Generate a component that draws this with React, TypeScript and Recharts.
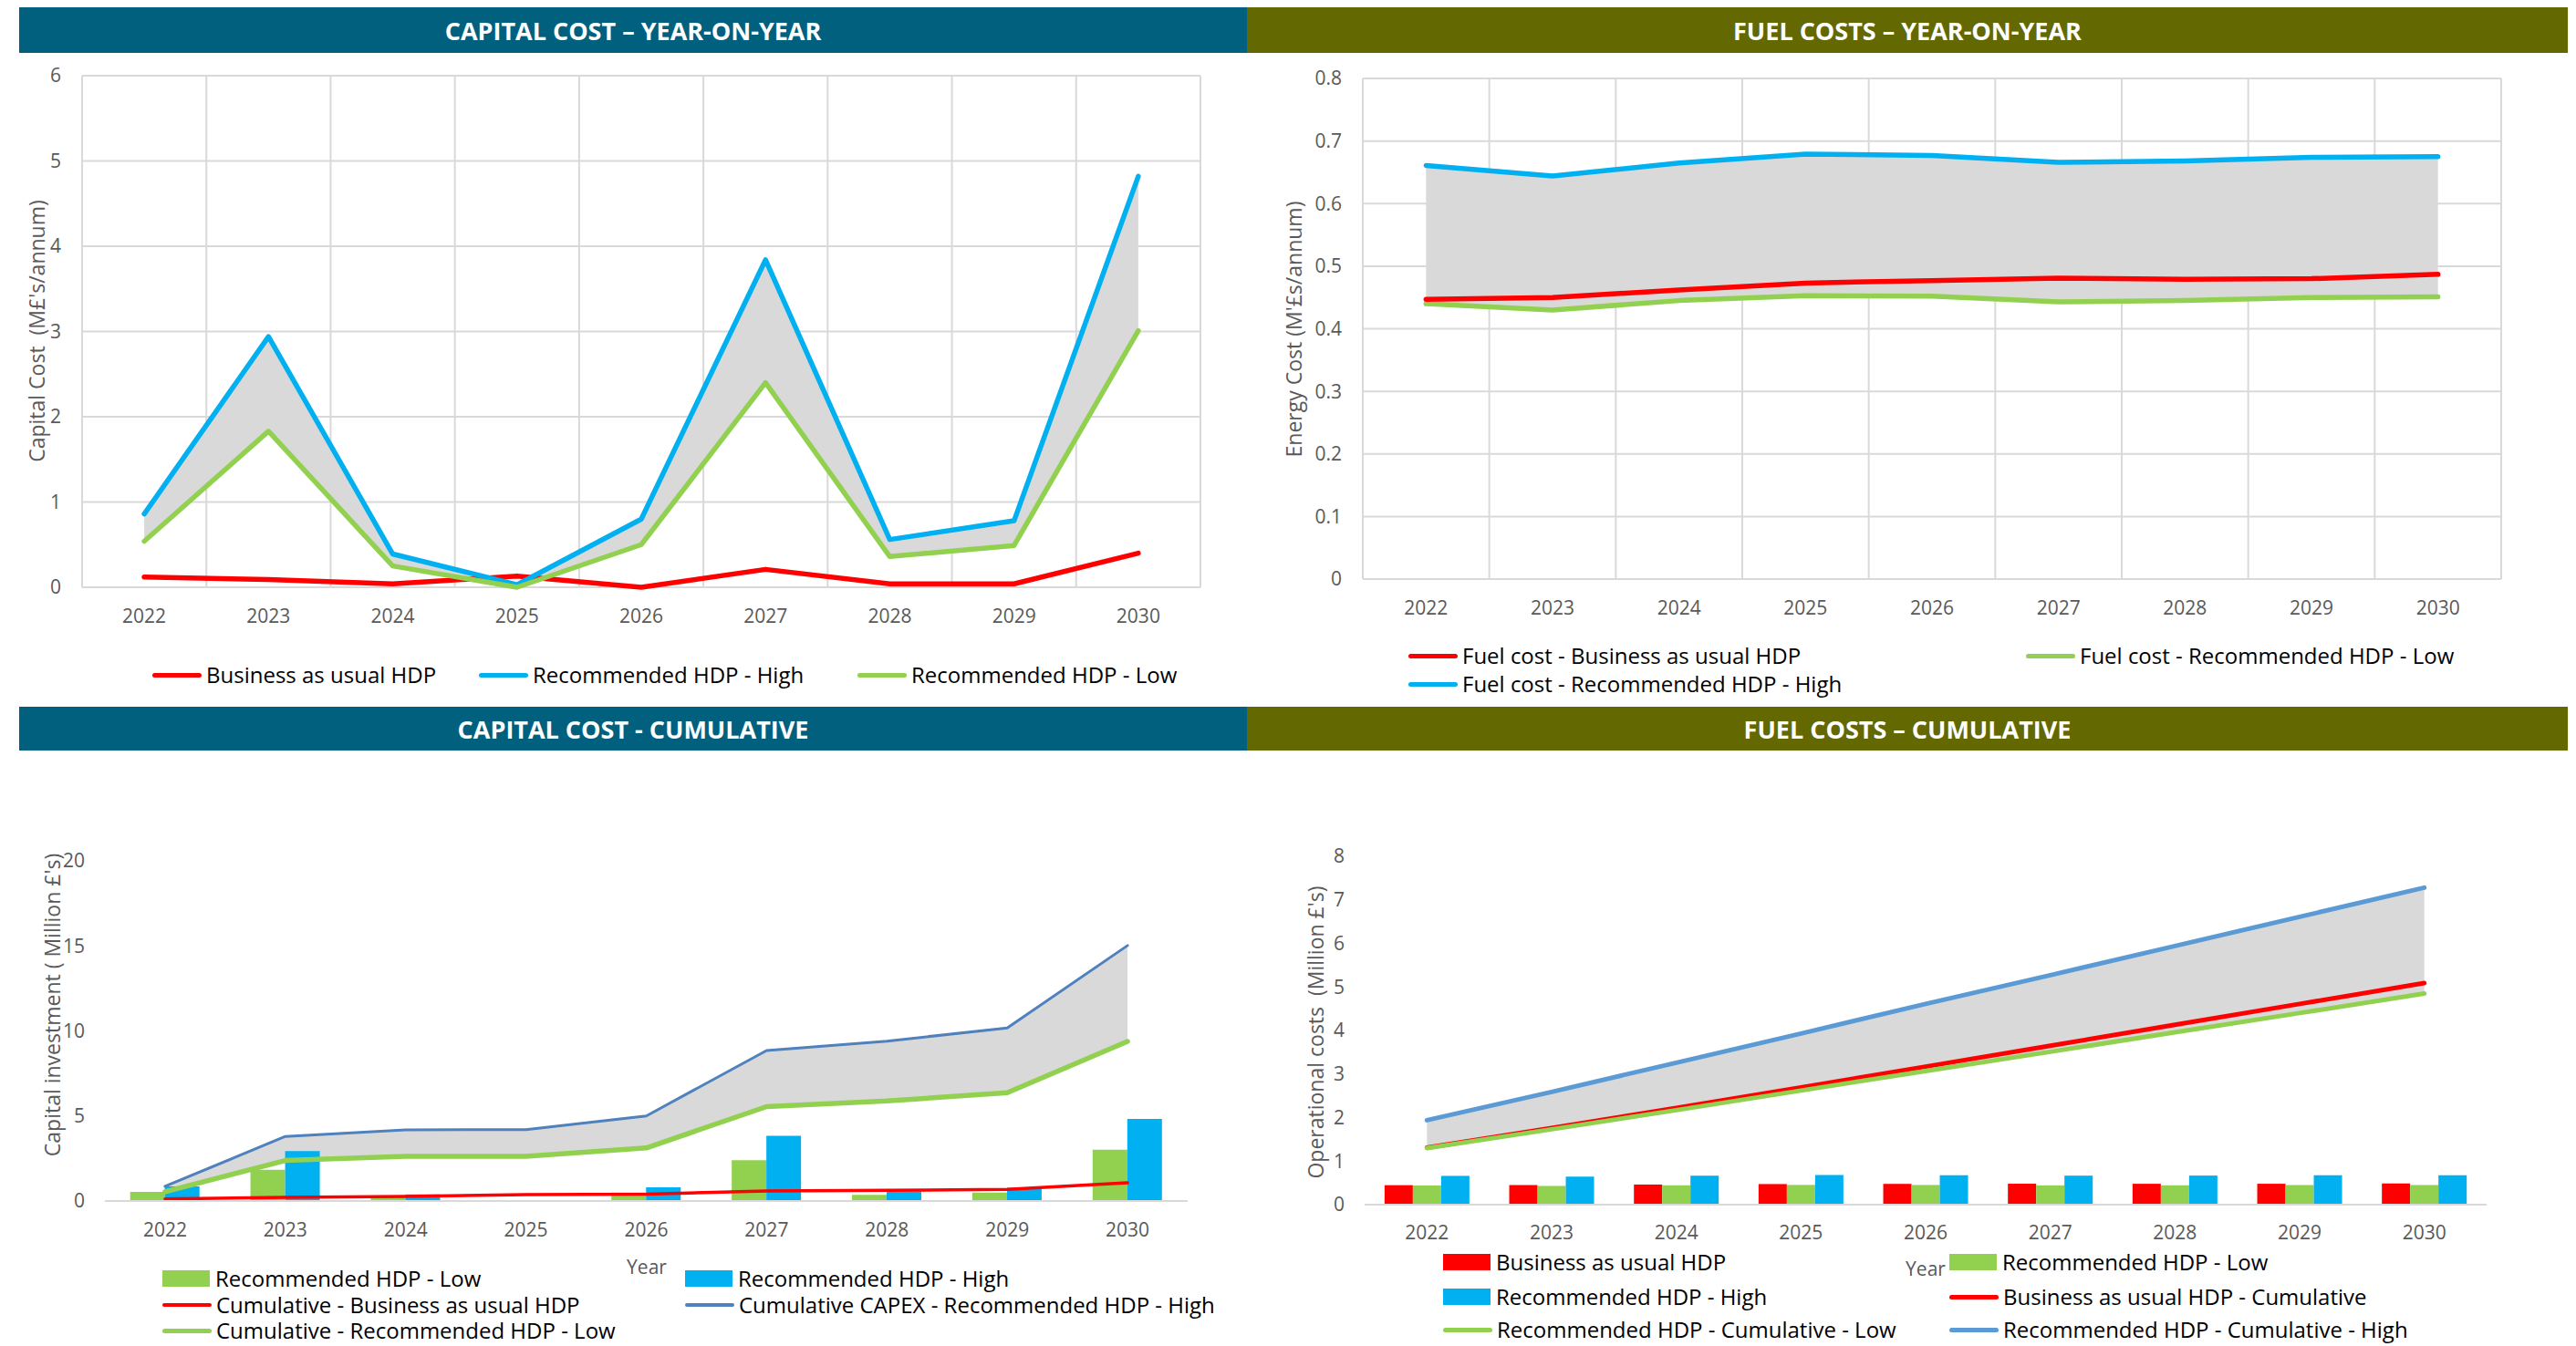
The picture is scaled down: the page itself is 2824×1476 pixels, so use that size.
import React from 'react';
import { ComposedChart, Line, Area, Bar, XAxis, YAxis, CartesianGrid } from 'recharts';

// Years shown on every panel
const YEARS = ['2022', '2023', '2024', '2025', '2026', '2027', '2028', '2029', '2030'];

// Capital cost per year (M£)
const capexBau = [0.12, 0.09, 0.04, 0.13, 0.0, 0.21, 0.04, 0.04, 0.4];
const capexHigh = [0.86, 2.94, 0.39, 0.03, 0.8, 3.84, 0.56, 0.78, 4.82];
const capexLow = [0.54, 1.83, 0.25, 0.0, 0.5, 2.4, 0.36, 0.49, 3.01];

// Capital cost, running totals (M£)
const capexCumBau = [0.12, 0.21, 0.27, 0.38, 0.4, 0.59, 0.63, 0.68, 1.07];
const capexCumHigh = [0.86, 3.8, 4.18, 4.2, 5.0, 8.85, 9.4, 10.18, 15.02];
const capexCumLow = [0.54, 2.38, 2.63, 2.63, 3.12, 5.55, 5.88, 6.37, 9.38];

// Fuel cost per year (M£)
const fuelBau = [0.447, 0.45, 0.462, 0.473, 0.477, 0.481, 0.479, 0.48, 0.487];
const fuelHigh = [0.661, 0.644, 0.665, 0.679, 0.677, 0.666, 0.668, 0.674, 0.675];
const fuelLow = [0.44, 0.43, 0.445, 0.453, 0.452, 0.443, 0.445, 0.45, 0.451];

// Fuel cost, running totals (M£)
const fuelCumBau = [1.31, 1.76, 2.22, 2.69, 3.17, 3.65, 4.13, 4.61, 5.09];
const fuelCumHigh = [1.94, 2.59, 3.26, 3.93, 4.61, 5.27, 5.94, 6.61, 7.28];
const fuelCumLow = [1.3, 1.73, 2.17, 2.62, 3.07, 3.51, 3.96, 4.4, 4.85];

// Y-axis ticks
const capexYoYTicks = [0, 1, 2, 3, 4, 5, 6];
const fuelYoYTicks = [0, 0.1, 0.2, 0.3, 0.4, 0.5, 0.6, 0.7, 0.8];
const capexCumTicks = [0, 5, 10, 15, 20];
const fuelCumTicks = [0, 1, 2, 3, 4, 5, 6, 7, 8];

const RED = '#FF0000';
const BLUE = '#00B0F0';
const GREEN = '#92D050';
const STEEL = '#4F81BD';
const SKY = '#5B9BD5';
const SHADE = '#D9D9D9';
const GRID = '#D9D9D9';
const TEAL = '#00607E';
const OLIVE = '#636800';
const FONT = '"Open Sans", "DejaVu Sans", sans-serif';

const tickStyle = { fill: '#595959', fontSize: 21, fontFamily: FONT };

const capexRows = YEARS.map((year, i) => ({
  year,
  bau: capexBau[i],
  high: capexHigh[i],
  low: capexLow[i],
  band: [capexLow[i], capexHigh[i]],
  cumBau: capexCumBau[i],
  cumHigh: capexCumHigh[i],
  cumLow: capexCumLow[i],
  cumBand: [capexCumLow[i], capexCumHigh[i]],
}));

const fuelRows = YEARS.map((year, i) => ({
  year,
  bau: fuelBau[i],
  high: fuelHigh[i],
  low: fuelLow[i],
  band: [fuelLow[i], fuelHigh[i]],
  cumBau: fuelCumBau[i],
  cumHigh: fuelCumHigh[i],
  cumLow: fuelCumLow[i],
  cumBand: [fuelCumLow[i], fuelCumHigh[i]],
}));

// vertical grid lines sit on the category boundaries, not the centres
const bandEdges = ({ offset }: any) => {
  const n = YEARS.length;
  return Array.from({ length: n + 1 }, (_, i) => offset.left + (i * offset.width) / n);
};

const Header = ({ x, y, w, h, color, text }: any) => (
  <div
    style={{
      position: 'absolute', left: x, top: y, width: w, height: h, background: color,
      color: '#fff', fontFamily: FONT, fontWeight: 700, fontSize: 27,
      display: 'flex', alignItems: 'center', justifyContent: 'center',
    }}
  >
    {text}
  </div>
);

const AxisTitle = ({ cx, cy, text }: any) => (
  <div
    style={{
      position: 'absolute', left: cx, top: cy, transform: 'translate(-50%, -50%) rotate(-90deg)',
      whiteSpace: 'pre', fontFamily: FONT, fontSize: 23, color: '#595959',
    }}
  >
    {text}
  </div>
);

const PlainLabel = ({ cx, cy, text }: any) => (
  <div
    style={{
      position: 'absolute', left: cx, top: cy, transform: 'translate(-50%, -50%)',
      fontFamily: FONT, fontSize: 21, color: '#595959',
    }}
  >
    {text}
  </div>
);

const LegendItem = ({ x, y, kind, color, text, weight = 5 }: any) => (
  <div
    style={{
      position: 'absolute', left: x, top: y, transform: 'translateY(-50%)',
      display: 'flex', alignItems: 'center', whiteSpace: 'nowrap', lineHeight: '28px',
      fontFamily: FONT, fontSize: 24, color: '#000',
    }}
  >
    {kind === 'bar' ? (
      <span style={{ display: 'inline-block', width: 52, height: 18, background: color, marginRight: 6 }} />
    ) : (
      <span
        style={{
          display: 'inline-block', width: 54, height: weight, background: color,
          borderRadius: weight, marginRight: 5,
        }}
      />
    )}
    {text}
  </div>
);

const CapexYoY = () => (
  <div style={{ position: 'absolute', left: 0, top: 60 }}>
    <ComposedChart width={1340} height={660} data={capexRows} margin={{ top: 23, right: 24, bottom: 36, left: 30 }}>
      <CartesianGrid stroke={GRID} strokeWidth={2} verticalCoordinatesGenerator={bandEdges} />
      <XAxis dataKey="year" scale="band" axisLine={false} tickLine={false} tickSize={0} tickMargin={24} height={40} tick={tickStyle} interval={0} />
      <YAxis domain={[0, 6]} ticks={capexYoYTicks} axisLine={false} tickLine={false} tickSize={0} tickMargin={23} width={60} tick={tickStyle} />
      <Area dataKey="band" type="linear" fill={SHADE} fillOpacity={1} stroke="none" isAnimationActive={false} activeDot={false} />
      <Line dataKey="bau" type="linear" stroke={RED} strokeWidth={5.5} dot={false} activeDot={false} strokeLinecap="round" strokeLinejoin="round" isAnimationActive={false} />
      <Line dataKey="high" type="linear" stroke={BLUE} strokeWidth={5.5} dot={false} activeDot={false} strokeLinecap="round" strokeLinejoin="round" isAnimationActive={false} />
      <Line dataKey="low" type="linear" stroke={GREEN} strokeWidth={5.5} dot={false} activeDot={false} strokeLinecap="round" strokeLinejoin="round" isAnimationActive={false} />
    </ComposedChart>
  </div>
);

const FuelYoY = () => (
  <div style={{ position: 'absolute', left: 1367, top: 60 }}>
    <ComposedChart width={1400} height={660} data={fuelRows} margin={{ top: 26, right: 25, bottom: 45, left: 67 }}>
      <CartesianGrid stroke={GRID} strokeWidth={2} verticalCoordinatesGenerator={bandEdges} />
      <XAxis dataKey="year" scale="band" axisLine={false} tickLine={false} tickSize={0} tickMargin={24} height={40} tick={tickStyle} interval={0} />
      <YAxis domain={[0, 0.8]} ticks={fuelYoYTicks} axisLine={false} tickLine={false} tickSize={0} tickMargin={23} width={60} tick={tickStyle} />
      <Area dataKey="band" type="linear" fill={SHADE} fillOpacity={1} stroke="none" isAnimationActive={false} activeDot={false} />
      <Line dataKey="low" type="linear" stroke={GREEN} strokeWidth={5.5} dot={false} activeDot={false} strokeLinecap="round" strokeLinejoin="round" isAnimationActive={false} />
      <Line dataKey="bau" type="linear" stroke={RED} strokeWidth={5.5} dot={false} activeDot={false} strokeLinecap="round" strokeLinejoin="round" isAnimationActive={false} />
      <Line dataKey="high" type="linear" stroke={BLUE} strokeWidth={5.5} dot={false} activeDot={false} strokeLinecap="round" strokeLinejoin="round" isAnimationActive={false} />
    </ComposedChart>
  </div>
);

const CapexCumulative = () => (
  <div style={{ position: 'absolute', left: 0, top: 830 }}>
    <ComposedChart width={1330} height={540} data={capexRows} barCategoryGap="21%" barGap={0} margin={{ top: 114, right: 28, bottom: 13, left: 55 }}>
      <XAxis dataKey="year" scale="band" axisLine={{ stroke: GRID, strokeWidth: 2 }} tickLine={false} tickSize={0} tickMargin={24} height={40} tick={tickStyle} interval={0} />
      <YAxis domain={[0, 20]} ticks={capexCumTicks} axisLine={false} tickLine={false} tickSize={0} tickMargin={22} width={60} tick={tickStyle} />
      <Area dataKey="cumBand" type="linear" fill={SHADE} fillOpacity={1} stroke="none" isAnimationActive={false} activeDot={false} />
      <Bar dataKey="low" fill={GREEN} isAnimationActive={false} />
      <Bar dataKey="high" fill={BLUE} isAnimationActive={false} />
      <Line dataKey="cumBau" type="linear" stroke={RED} strokeWidth={3.5} dot={false} activeDot={false} strokeLinecap="round" strokeLinejoin="round" isAnimationActive={false} />
      <Line dataKey="cumHigh" type="linear" stroke={STEEL} strokeWidth={3} dot={false} activeDot={false} strokeLinecap="round" strokeLinejoin="round" isAnimationActive={false} />
      <Line dataKey="cumLow" type="linear" stroke={GREEN} strokeWidth={5.5} dot={false} activeDot={false} strokeLinecap="round" strokeLinejoin="round" isAnimationActive={false} />
    </ComposedChart>
  </div>
);

const FuelCumulative = () => (
  <div style={{ position: 'absolute', left: 1367, top: 830 }}>
    <ComposedChart width={1400} height={540} data={fuelRows} barCategoryGap="16%" barGap={0} margin={{ top: 109, right: 41, bottom: 9, left: 69 }}>
      <XAxis dataKey="year" scale="band" axisLine={{ stroke: GRID, strokeWidth: 2 }} tickLine={false} tickSize={0} tickMargin={23} height={40} tick={tickStyle} interval={0} />
      <YAxis domain={[0, 8]} ticks={fuelCumTicks} axisLine={false} tickLine={false} tickSize={0} tickMargin={22} width={60} tick={tickStyle} />
      <Area dataKey="cumBand" type="linear" fill={SHADE} fillOpacity={1} stroke="none" isAnimationActive={false} activeDot={false} />
      <Bar dataKey="bau" fill={RED} isAnimationActive={false} />
      <Bar dataKey="low" fill={GREEN} isAnimationActive={false} />
      <Bar dataKey="high" fill={BLUE} isAnimationActive={false} />
      <Line dataKey="cumBau" type="linear" stroke={RED} strokeWidth={5} dot={false} activeDot={false} strokeLinecap="round" strokeLinejoin="round" isAnimationActive={false} />
      <Line dataKey="cumLow" type="linear" stroke={GREEN} strokeWidth={5} dot={false} activeDot={false} strokeLinecap="round" strokeLinejoin="round" isAnimationActive={false} />
      <Line dataKey="cumHigh" type="linear" stroke={SKY} strokeWidth={5} dot={false} activeDot={false} strokeLinecap="round" strokeLinejoin="round" isAnimationActive={false} />
    </ComposedChart>
  </div>
);

export default function App() {
  return (
    <div style={{ position: 'absolute', left: 0, top: 0, width: 2824, height: 1476, background: '#fff', overflow: 'hidden' }}>
      <Header x={21} y={8} w={1346} h={50} color={TEAL} text="CAPITAL COST – YEAR-ON-YEAR" />
      <Header x={1367} y={8} w={1448} h={50} color={OLIVE} text="FUEL COSTS – YEAR-ON-YEAR" />
      <Header x={21} y={775} w={1346} h={48} color={TEAL} text="CAPITAL COST - CUMULATIVE" />
      <Header x={1367} y={775} w={1448} h={48} color={OLIVE} text="FUEL COSTS – CUMULATIVE" />

      <CapexYoY />
      <FuelYoY />
      <CapexCumulative />
      <FuelCumulative />

      <AxisTitle cx={40} cy={363} text={"Capital Cost  (M£'s/annum)"} />
      <AxisTitle cx={1418} cy={361} text={"Energy Cost (M'£s/annum)"} />
      <AxisTitle cx={57} cy={1102} text={"Capital investment ( Million £'s)"} />
      <AxisTitle cx={1442} cy={1132} text={"Operational costs  (Million £'s)"} />

      <PlainLabel cx={709} cy={1389} text="Year" />
      <PlainLabel cx={2111} cy={1391} text="Year" />

      <LegendItem x={167} y={740} kind="line" color={RED} text="Business as usual HDP" />
      <LegendItem x={525} y={740} kind="line" color={BLUE} text="Recommended HDP - High" />
      <LegendItem x={940} y={740} kind="line" color={GREEN} text="Recommended HDP - Low" />

      <LegendItem x={1544} y={719} kind="line" color={RED} text="Fuel cost - Business as usual HDP" />
      <LegendItem x={2221} y={719} kind="line" color={GREEN} text="Fuel cost - Recommended HDP - Low" />
      <LegendItem x={1544} y={750} kind="line" color={BLUE} text="Fuel cost - Recommended HDP - High" />

      <LegendItem x={178} y={1402} kind="bar" color={GREEN} text="Recommended HDP - Low" />
      <LegendItem x={751} y={1402} kind="bar" color={BLUE} text="Recommended HDP - High" />
      <LegendItem x={178} y={1431} kind="line" color={RED} weight={4} text="Cumulative - Business as usual HDP" />
      <LegendItem x={751} y={1431} kind="line" color={STEEL} weight={4} text="Cumulative CAPEX - Recommended HDP - High" />
      <LegendItem x={178} y={1459} kind="line" color={GREEN} weight={5} text="Cumulative - Recommended HDP - Low" />

      <LegendItem x={1582} y={1384} kind="bar" color={RED} text="Business as usual HDP" />
      <LegendItem x={2137} y={1384} kind="bar" color={GREEN} text="Recommended HDP - Low" />
      <LegendItem x={1582} y={1422} kind="bar" color={BLUE} text="Recommended HDP - High" />
      <LegendItem x={2137} y={1422} kind="line" color={RED} text="Business as usual HDP - Cumulative" />
      <LegendItem x={1582} y={1458} kind="line" color={GREEN} text="Recommended HDP - Cumulative - Low" />
      <LegendItem x={2137} y={1458} kind="line" color={SKY} text="Recommended HDP - Cumulative - High" />
    </div>
  );
}
